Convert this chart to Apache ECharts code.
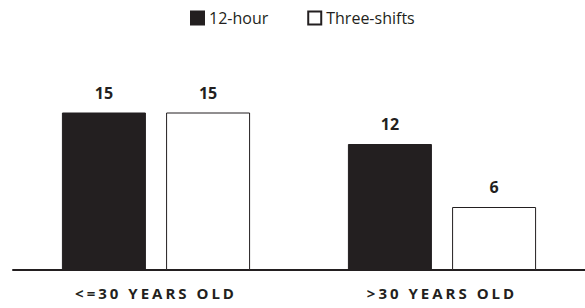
<!DOCTYPE html>
<html>
<head>
<meta charset="utf-8">
<script src="https://cdn.jsdelivr.net/npm/echarts@6/dist/echarts.min.js"></script>
<style>
    html, body { margin: 0; padding: 0; background: #ffffff; }
    #chart { width: 585px; height: 308px; }
    /* spaced-out category labels (the only 15px text on the chart) */
    #chart text[style*="15px"] { letter-spacing: 3px; }
</style>
</head>
<body>
<div id="chart"></div>
<script>
    var categories = ['<=30 YEARS OLD', '>30 YEARS OLD'];
    var twelveHour = [15, 12];
    var threeShifts = [15, 6];

    var chart = echarts.init(document.getElementById('chart'), null, { renderer: 'svg' });

    var valueLabel = {
        show: true,
        position: 'top',
        distance: 12,
        fontFamily: 'Open Sans',
        fontWeight: 'bold',
        fontSize: 16,
        color: '#231f20'
    };

    var option = {
        animation: false,
        legend: {
            top: 5,
            left: 185,
            icon: 'rect',
            itemWidth: 13,
            itemHeight: 13,
            itemGap: 39,
            textStyle: { fontFamily: 'Open Sans', fontSize: 16, color: '#231f20' },
            data: ['12-hour', 'Three-shifts']
        },
        grid: { left: 13, right: -3, top: 60, bottom: 38 },
        xAxis: {
            type: 'category',
            data: categories,
            axisLine: { lineStyle: { color: '#231f20', width: 2 } },
            axisTick: { show: false },
            axisLabel: {
                margin: 15,
                fontFamily: 'Open Sans',
                fontWeight: 'bold',
                fontSize: 15,
                color: '#231f20'
            }
        },
        yAxis: { type: 'value', min: 0, max: 20, show: false },
        series: [
            {
                name: '12-hour',
                type: 'bar',
                data: twelveHour,
                barWidth: 84,
                barGap: '24%',
                itemStyle: { color: '#231f20', borderColor: '#231f20', borderWidth: 1 },
                label: valueLabel
            },
            {
                name: 'Three-shifts',
                type: 'bar',
                data: threeShifts,
                barWidth: 84,
                itemStyle: { color: '#ffffff', borderColor: '#231f20', borderWidth: 1 },
                label: valueLabel
            }
        ]
    };

    chart.setOption(option);
</script>
</body>
</html>
